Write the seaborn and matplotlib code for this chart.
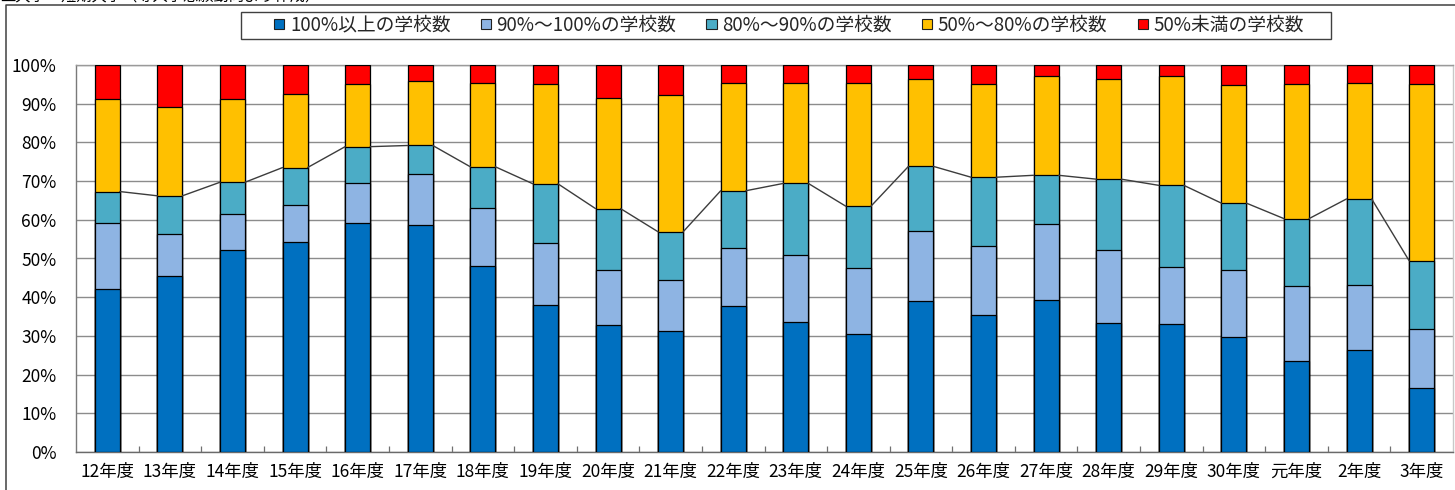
import numpy as np
import pandas as pd
import matplotlib
matplotlib.use("Agg")
import matplotlib.pyplot as plt
from matplotlib.patches import Patch, Rectangle
from matplotlib.lines import Line2D
import seaborn as sns

# 年度ごとの定員充足率別 学校数の割合（%）
years = ["12年度", "13年度", "14年度", "15年度", "16年度", "17年度", "18年度",
         "19年度", "20年度", "21年度", "22年度", "23年度", "24年度", "25年度",
         "26年度", "27年度", "28年度", "29年度", "30年度", "元年度", "2年度", "3年度"]

over100 = [42.1, 45.6, 52.1, 54.3, 59.2, 58.7, 48.1, 38.0, 32.9, 31.3, 37.7,
           33.5, 30.5, 39.0, 35.4, 39.3, 33.3, 33.1, 29.7, 23.4, 26.4, 16.6]
r90_100 = [17.2, 10.8, 9.3, 9.4, 10.3, 13.1, 14.9, 16.1, 14.0, 13.2, 14.9,
           17.4, 17.0, 18.2, 17.8, 19.5, 18.9, 14.8, 17.2, 19.5, 16.8, 15.3]
r80_90 = [8.0, 9.8, 8.3, 9.8, 9.4, 7.4, 10.7, 15.2, 16.0, 12.4, 14.9,
          18.5, 16.0, 16.6, 17.8, 12.7, 18.3, 21.0, 17.4, 17.4, 22.2, 17.5]
r50_80 = [23.8, 23.0, 21.5, 19.0, 16.3, 16.7, 21.6, 25.7, 28.7, 35.3, 27.9,
          25.9, 31.8, 22.5, 24.1, 25.7, 25.9, 28.3, 30.5, 34.8, 29.9, 45.7]
under50 = [8.9, 10.8, 8.8, 7.5, 4.8, 4.1, 4.7, 5.0, 8.4, 7.8, 4.6,
           4.7, 4.7, 3.7, 4.9, 2.8, 3.6, 2.8, 5.2, 4.9, 4.7, 4.9]

series_names = ["100%以上の学校数", "90%～100%の学校数", "80%～90%の学校数",
                "50%～80%の学校数", "50%未満の学校数"]
colors = ["#0070C0", "#8EB4E3", "#4BACC6", "#FFC000", "#FF0000"]

sns.set_theme(style="white")
plt.rcParams["font.family"] = ["Noto Sans CJK JP", "DejaVu Sans"]

df = pd.DataFrame({
    "年度": years,
    series_names[0]: over100,
    series_names[1]: r90_100,
    series_names[2]: r80_90,
    series_names[3]: r50_80,
    series_names[4]: under50,
})
# 積み上げの累積値
cum = df[series_names].cumsum(axis=1)

W, H = 1455, 490
fig = plt.figure(figsize=(W / 100, H / 100), dpi=100)
ax = fig.add_axes([76 / W, 38 / H, 1377 / W, 387 / H])

bar_w = 0.4
# 上の系列から順に累積高さで重ね描き
for name, col in reversed(list(zip(series_names, colors))):
    sns.barplot(data=cum.assign(年度=years), x="年度", y=name, order=years,
                color=col, saturation=1, width=bar_w, edgecolor="black",
                linewidth=0.9, ax=ax, zorder=3)

# 80%以上の境界を結ぶ区分線
top80 = cum[series_names[2]].to_numpy()
for i in range(len(years) - 1):
    ax.plot([i + bar_w / 2, i + 1 - bar_w / 2], [top80[i], top80[i + 1]],
            color="#3c3c3c", lw=1.0, zorder=4)

ax.set_xlim(-0.5, len(years) - 0.5)
ax.set_ylim(0, 100)
ax.set_yticks(np.arange(0, 101, 10))
ax.set_yticklabels([f"{v}%" for v in range(0, 101, 10)])
ax.set_xlabel("")
ax.set_ylabel("")

ax.set_xticks(np.arange(0.5, len(years) - 1, 1), minor=True)
ax.tick_params(axis="x", which="major", length=0, pad=8, labelsize=12.5, colors="black")
ax.tick_params(axis="x", which="minor", direction="in", length=4, width=0.9,
               color="#707070", bottom=True)
ax.tick_params(axis="y", length=0, pad=14, labelsize=12.5, colors="black")

ax.yaxis.grid(True, color="#8c8c8c", lw=1.0)
ax.set_axisbelow(True)

for side, c in [("left", "#7a7a7a"), ("bottom", "#6a6a6a"),
                ("top", "#9a9a9a"), ("right", "#c8c8c8")]:
    ax.spines[side].set_visible(True)
    ax.spines[side].set_color(c)
    ax.spines[side].set_linewidth(1.0)

# 凡例
box = Rectangle((241 / W, 1 - 38.7 / H), 1090 / W, 26.7 / H,
                transform=fig.transFigure, facecolor="white",
                edgecolor="#404040", lw=1.0, zorder=1)
fig.add_artist(box)
handles = [Patch(facecolor=c, edgecolor="#202020", lw=0.8) for c in colors]
leg = fig.legend(handles, series_names, loc="center",
                 bbox_to_anchor=(789 / W, 1 - 25.3 / H), ncol=5, frameon=False,
                 fontsize=13.5, handlelength=0.55, handleheight=0.5,
                 handletextpad=0.3, columnspacing=1.6)
leg.set_zorder(2)

# 図の外枠
fig.add_artist(Line2D([5.5 / W, 5.5 / W, 1.0], [0.0, 1 - 5 / H, 1 - 5 / H],
                      transform=fig.transFigure, color="#404040", lw=1.1))

# 上端の出典表記
fig.text(0.0, 1 - 5 / H, "立大学・短期大学（等入学志願動向より作成）",
         ha="left", va="bottom", fontsize=11, color="black")

fig.savefig("out.png", dpi=100)
